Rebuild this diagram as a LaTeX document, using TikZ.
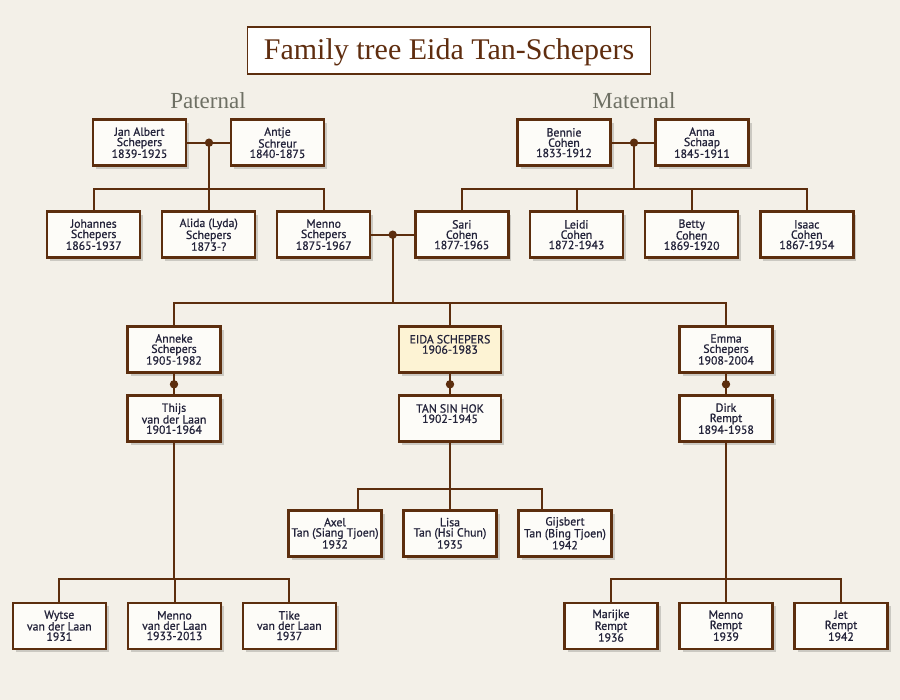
\documentclass[tikz,border=0pt]{standalone}
\usepackage{fontspec}
\newfontfamily\boxfont[FakeBold=0.9]{PT Sans}
\newfontfamily\titlefont{Liberation Serif}
\usetikzlibrary{shadows}
\definecolor{bg}{RGB}{243,240,232}
\definecolor{brn}{RGB}{92,46,14}
\definecolor{boxfill}{RGB}{253,252,248}
\definecolor{eidafill}{RGB}{253,243,212}
\definecolor{txt}{RGB}{35,35,58}
\definecolor{lbl}{RGB}{110,112,100}
\definecolor{titlebrn}{RGB}{95,45,15}
\tikzset{
  person/.style={draw=brn, line width=2.4pt, fill=boxfill, minimum width=93pt,
    minimum height=46pt, inner sep=0pt, align=center, text=txt,
    font=\boxfont\fontsize{11.8}{10.3}\selectfont,
    drop shadow={shadow xshift=3pt, shadow yshift=-3.5pt, opacity=0.16, fill=black}},
  wide/.style={minimum width=102pt},
  conn/.style={draw=brn, line width=2pt},
  sidelabel/.style={text=lbl, font=\titlefont\fontsize{23}{23}\selectfont},
}
\begin{document}
\begin{tikzpicture}[x=1pt,y=-1pt]
\fill[bg] (0,0) rectangle (900,700);
\useasboundingbox (0,0) rectangle (900,700);

% title and labels
\node[draw=brn, line width=1.6pt, fill=white, minimum width=403pt, minimum height=47pt,
  inner sep=0pt, text height=21pt, text depth=4pt, text=titlebrn,
  font=\titlefont\fontsize{30}{30}\selectfont] (title) at (449,50.7) {Family tree Eida Tan-Schepers};
\node[sidelabel] (pat) at (208,100.5) {Paternal};
\node[sidelabel] (mat) at (634,100.5) {Maternal};

% grandparents
\node[person] (jan) at (139.5,142.7) {Jan Albert\\Schepers\\1839-1925};
\node[person] (antje) at (277.5,142.7) {Antje\\Schreur\\1840-1875};
\node[person] (bennie) at (564,142.7) {Bennie\\Cohen\\1833-1912};
\node[person] (anna) at (702,142.7) {Anna\\Schaap\\1845-1911};

% parents generation
\node[person] (johannes) at (93.7,234.7) {Johannes\\Schepers\\1865-1937};
\node[person] (alida) at (208.7,234.7) {Alida (Lyda)\\Schepers\\1873-?};
\node[person] (menno) at (323.7,234.7) {Menno\\Schepers\\1875-1967};
\node[person] (sari) at (461.8,234.7) {Sari\\Cohen\\1877-1965};
\node[person] (leidi) at (576.5,234.7) {Leidi\\Cohen\\1872-1943};
\node[person] (betty) at (691.7,234.7) {Betty\\Cohen\\1869-1920};
\node[person] (isaac) at (806.8,234.7) {Isaac\\Cohen\\1867-1954};

% Eida generation
\node[person] (anneke) at (174,349.5) {Anneke\\Schepers\\1905-1982};
\node[person, wide, fill=eidafill] (eida) at (450,349.5) {EIDA SCHEPERS\\1906-1983\\{}};
\node[person] (emma) at (726,349.5) {Emma\\Schepers\\1908-2004};
\node[person] (thijs) at (174,418.7) {Thijs\\van der Laan\\1901-1964};
\node[person, wide] (tan) at (450,418.7) {TAN SIN HOK\\1902-1945\\{}};
\node[person] (dirk) at (726,418.7) {Dirk\\Rempt\\1894-1958};

% children
\node[person] (axel) at (335,533.3) {Axel\\Tan (Siang Tjoen)\\1932};
\node[person] (lisa) at (450,533.3) {Lisa\\Tan (Hsi Chun)\\1935};
\node[person] (gijsbert) at (565,533.3) {Gijsbert\\Tan (Bing Tjoen)\\1942};
\node[person] (wytse) at (59.3,625.7) {Wytse\\van der Laan\\1931};
\node[person] (mennovdl) at (174.5,625.7) {Menno\\van der Laan\\1933-2013};
\node[person] (tike) at (289.3,625.7) {Tike\\van der Laan\\1937};
\node[person] (marijke) at (611,625.7) {Marijke\\Rempt\\1936};
\node[person] (mennor) at (726,625.7) {Menno\\Rempt\\1939};
\node[person] (jet) at (841,625.7) {Jet\\Rempt\\1942};

% marriage points and bars
\coordinate (d1) at (209,142.7);
\coordinate (d2) at (634,142.7);
\coordinate (d3) at (392.7,234.7);
\coordinate (d4) at (174,384.3);
\coordinate (d5) at (450,384.3);
\coordinate (d6) at (726,384.3);
\coordinate (b1) at (209,188.7);
\coordinate (b2) at (634,188.7);
\coordinate (b3) at (392.7,303.3);
\coordinate (b4) at (174,579);
\coordinate (b5) at (450,489);
\coordinate (b6) at (726,579);

% connectors
\draw[conn] (jan) -- (antje);
\draw[conn] (d1) -- (b1);
\draw[conn] (johannes.north) |- (b1);
\draw[conn] (menno.north) |- (b1);
\draw[conn] (alida.north) |- (b1);

\draw[conn] (bennie) -- (anna);
\draw[conn] (d2) -- (b2);
\draw[conn] (sari.north) |- (b2);
\draw[conn] (isaac.north) |- (b2);
\draw[conn] (leidi.north) -- (leidi.north |- b2);
\draw[conn] (betty.north) -- (betty.north |- b2);

\draw[conn] (menno) -- (sari);
\draw[conn] (d3) -- (b3);
\draw[conn] (anneke.north) |- (b3);
\draw[conn] (emma.north) |- (b3);
\draw[conn] (eida.north) -- (eida.north |- b3);

\draw[conn] (anneke) -- (thijs);
\draw[conn] (eida) -- (tan);
\draw[conn] (emma) -- (dirk);

\draw[conn] (thijs) -- (b4);
\draw[conn] (wytse.north) |- (b4);
\draw[conn] (tike.north) |- (b4);
\draw[conn] (mennovdl.north) -- (mennovdl.north |- b4);

\draw[conn] (tan) -- (b5);
\draw[conn] ([xshift=23pt]axel.north) |- (b5);
\draw[conn] ([xshift=-23pt]gijsbert.north) |- (b5);
\draw[conn] (lisa.north) -- (b5);

\draw[conn] (dirk) -- (b6);
\draw[conn] (marijke.north) |- (b6);
\draw[conn] (jet.north) |- (b6);
\draw[conn] (mennor.north) -- (b6);

\foreach \d in {d1,d2,d3,d4,d5,d6} \fill[brn] (\d) circle (4.2pt);
\end{tikzpicture}
\end{document}
